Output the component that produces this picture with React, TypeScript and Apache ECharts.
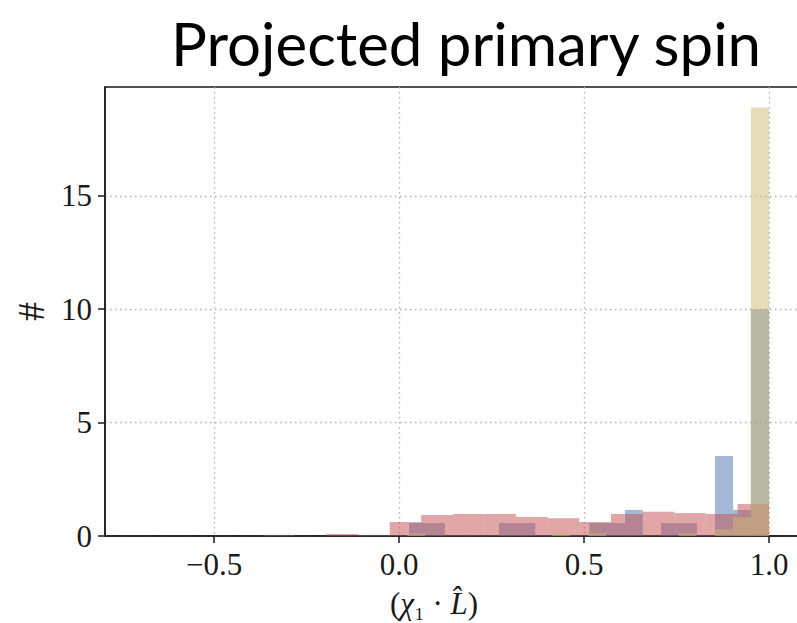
import React, { useEffect, useRef } from "react";
import * as echarts from "echarts";

// Bin edges and heights
const redEdges = [-0.367, -0.282, -0.196, -0.111, -0.025, 0.06, 0.146, 0.231, 0.316, 0.402, 0.487, 0.573, 0.658, 0.744, 0.829, 0.915, 1.0];
const redValues = [0.05, 0, 0.09, 0.04, 0.62, 0.93, 0.97, 0.97, 0.84, 0.78, 0.62, 0.97, 1.07, 1.01, 0.97, 1.41];

const blueEdges = [0.027, 0.076, 0.124, 0.173, 0.222, 0.27, 0.319, 0.368, 0.416, 0.465, 0.514, 0.562, 0.611, 0.659, 0.708, 0.757, 0.805, 0.854, 0.903, 0.951, 1.0];
const blueValues = [0.57, 0.57, 0, 0, 0, 0.57, 0.57, 0, 0, 0, 0.57, 0.57, 1.15, 0, 0.57, 0.57, 0, 3.53, 1.15, 10.0];

const tanEdges = [0.022, 0.071, 0.12, 0.168, 0.217, 0.266, 0.315, 0.364, 0.413, 0.462, 0.511, 0.56, 0.609, 0.658, 0.706, 0.755, 0.804, 0.853, 0.902, 0.951, 1.0];
const tanValues = [0.12, 0, 0, 0, 0, 0, 0, 0, 0.12, 0, 0.12, 0, 0, 0, 0, 0.12, 0, 0.3, 0.84, 18.9];

const xTicks = [-0.5, 0, 0.5, 1.0];
const yTicks = [0, 5, 10, 15];

const X_MIN = -0.7946;
const X_MAX = 1.1;
const Y_MIN = 0;
const Y_MAX = 19.8;

function toBins(edges: number[], values: number[]) {
  const out: number[][] = [];
  for (let i = 0; i < values.length; i++) {
    if (values[i] > 0) out.push([edges[i], edges[i + 1], values[i]]);
  }
  return out;
}

function histSeries(name: string, edges: number[], values: number[], color: string) {
  return {
    type: "custom",
    name,
    clip: true,
    encode: { x: [0, 1], y: 2 },
    data: toBins(edges, values),
    renderItem: (params: any, api: any) => {
      const p0 = api.coord([api.value(0), 0]);
      const p1 = api.coord([api.value(1), api.value(2)]);
      return {
        type: "rect",
        shape: { x: p0[0], y: p1[1], width: p1[0] - p0[0], height: p0[1] - p1[1] },
        style: { fill: color },
      };
    },
  };
}

const serif = "'Liberation Serif', 'DejaVu Serif', serif";
const CHART_W = 840;

export default function App() {
  const ref = useRef<HTMLDivElement>(null);
  useEffect(() => {
    if (!ref.current) return;
    const chart = echarts.init(ref.current, null, { renderer: "svg" });
    const gridW = 370 * (X_MAX - X_MIN);
    chart.setOption({
      animation: false,
      backgroundColor: "#ffffff",
      grid: {
        left: 105,
        top: 87,
        width: gridW,
        height: 449,
        show: true,
        borderColor: "#1a1a1a",
        borderWidth: 1.5,
        containLabel: false,
      },
      xAxis: {
        type: "value",
        min: X_MIN,
        max: X_MAX,
        axisLine: { show: true, onZero: false, lineStyle: { color: "#1a1a1a", width: 1.5 } },
        axisTick: { show: true, length: 7, customValues: xTicks, lineStyle: { color: "#1a1a1a", width: 1.5 } },
        axisLabel: {
          customValues: xTicks,
          margin: 13,
          color: "#1a1a1a",
          fontFamily: serif,
          fontSize: 31,
          formatter: (v: number) => (v < 0 ? "\u2212" + Math.abs(v).toFixed(1) : v.toFixed(1)),
        },
        splitLine: { show: true, lineStyle: { color: "#b0b0b0", width: 1.3, type: [1.5, 3.5] } },
      },
      yAxis: {
        type: "value",
        min: Y_MIN,
        max: Y_MAX,
        name: "#",
        nameLocation: "middle",
        nameGap: 55,
        nameRotate: 90,
        nameTextStyle: { fontFamily: serif, fontSize: 38, color: "#1a1a1a" },
        axisLine: { show: true, onZero: false, lineStyle: { color: "#1a1a1a", width: 1.5 } },
        axisTick: { show: true, length: 7, customValues: yTicks, lineStyle: { color: "#1a1a1a", width: 1.5 } },
        axisLabel: {
          customValues: yTicks,
          margin: 13,
          color: "#1a1a1a",
          fontFamily: serif,
          fontSize: 31,
          formatter: (v: number) => String(v),
        },
        splitLine: { show: true, lineStyle: { color: "#b0b0b0", width: 1.3, type: [1.5, 3.5] } },
      },
      graphic: [
        {
          type: "text",
          x: 466,
          y: 43,
          style: {
            text: "Projected primary spin",
            fontFamily: "Lato, 'Open Sans', sans-serif",
            fontSize: 60,
            fill: "#000000",
            align: "center",
            verticalAlign: "middle",
          },
        },
        {
          type: "text",
          x: 434,
          y: 603,
          style: {
            text: "{n|(}{i|\u03c7}{n|\u2081 \u00b7 }{i|L\u0302}{n|)}",
            align: "center",
            verticalAlign: "middle",
            rich: {
              n: { fontFamily: serif, fontSize: 31, fill: "#1a1a1a" },
              i: { fontFamily: serif, fontSize: 31, fontStyle: "italic", fill: "#1a1a1a" },
            },
          },
        },
      ],
      series: [
        histSeries("blue", blueEdges, blueValues, "rgba(76,114,176,0.5)"),
        histSeries("red", redEdges, redValues, "rgba(196,78,82,0.5)"),
        histSeries("tan", tanEdges, tanValues, "rgba(204,185,116,0.5)"),
      ],
    });
    return () => chart.dispose();
  }, []);
  return (
    <div style={{ position: "absolute", left: 0, top: 0, width: 797, height: 623, overflow: "hidden", background: "#fff" }}>
      <div ref={ref} style={{ width: CHART_W, height: 623 }} />
    </div>
  );
}
